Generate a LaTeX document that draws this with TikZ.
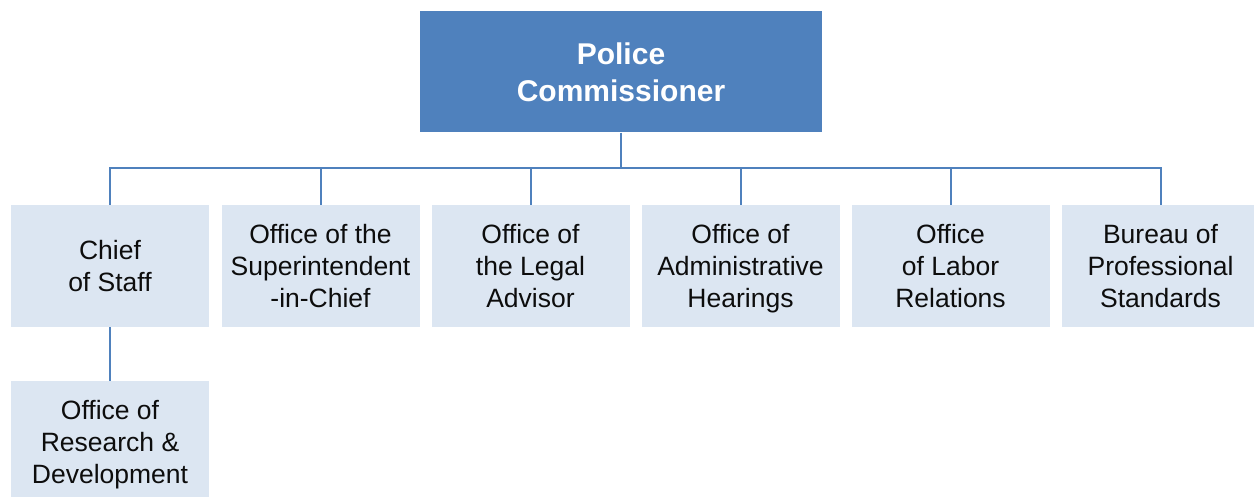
\documentclass[tikz,border=0pt]{standalone}
\usepackage{fontspec}
\setmainfont{Liberation Sans}
\definecolor{headblue}{HTML}{4F81BD}
\definecolor{unitfill}{HTML}{DCE6F2}
\definecolor{linkblue}{HTML}{4F81BD}
\definecolor{inktext}{HTML}{0D0D0D}
\begin{document}
\begin{tikzpicture}[x=1pt,y=-1pt,
  head/.style={fill=headblue, text=white, minimum width=402pt, minimum height=121pt,
    inner sep=0pt, align=center, font=\fontsize{30}{37}\selectfont\bfseries},
  unit/.style={fill=unitfill, text=inktext, minimum width=198pt, minimum height=122pt,
    inner sep=0pt, align=center, text depth=0pt, font=\fontsize{26.5}{32}\selectfont},
  link/.style={draw=linkblue, line width=2pt}]
\useasboundingbox (0,0) rectangle (1254,497);
\clip (0,0) rectangle (1254,497);

% head of the organisation
\node[head] (pc) at (621,72) {Police\\Commissioner};

% reporting units
\node[unit] (cos) at (110,266) {Chief\\of Staff};
\node[unit] (sup) at (320.5,266) {Office of the\\Superintendent\\-in-Chief};
\node[unit] (leg) at (530.5,266) {Office of\\the Legal\\Advisor};
\node[unit] (adm) at (740.5,266) {Office of\\Administrative\\Hearings};
\node[unit] (lab) at (950.5,266) {Office\\of Labor\\Relations};
\node[unit] (bps) at (1160.5,266) {Bureau of\\Professional\\Standards};
\node[unit] (rnd) at (110,442) {Office of\\Research \&\\Development};

% horizontal bus level
\coordinate (bus) at (621,168);

% connectors
\draw[link] (pc.south) -- (pc.south |- bus);
\foreach \u in {cos,sup,leg,adm,lab,bps}
  \draw[link] (pc.south |- bus) -| (\u.north);
\draw[link] (cos.south) -- (rnd.north);
\end{tikzpicture}
\end{document}
